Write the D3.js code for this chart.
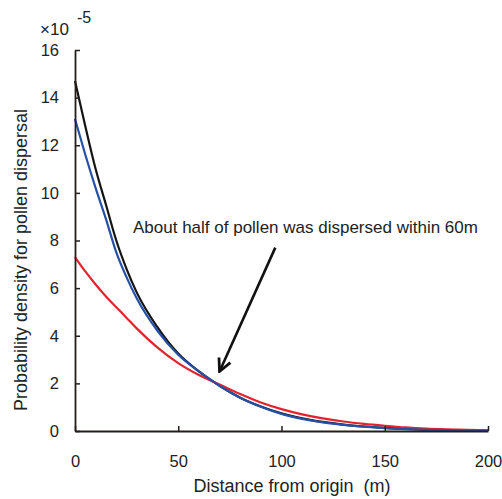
<!DOCTYPE html>
<html>
<head>
<meta charset="utf-8">
<script src="https://cdn.jsdelivr.net/npm/d3@7"></script>
<style>
  html, body { margin: 0; padding: 0; background: #fff; }
  svg { display: block; font-family: "Liberation Sans", Arial, sans-serif; }
</style>
</head>
<body>
<svg id="chart" width="502" height="499"></svg>
<script>
// ---- Data (probability density, units of 1e-5) ----
const distance = [0,5,10,15,20,25,30,40,50,60,70,80,90,100,110,120,130,140,150,160,170,180,190,200];
const blackSeries = [14.7,12.8,11.0,9.5,8.0,6.8,5.8,4.35,3.25,2.5,1.9,1.4,1.03,0.74,0.53,0.38,0.27,0.19,0.13,0.09,0.06,0.04,0.03,0.02];
const blueSeries  = [13.1,11.6,10.2,8.9,7.5,6.45,5.55,4.2,3.2,2.5,1.9,1.4,1.02,0.72,0.51,0.36,0.26,0.18,0.12,0.08,0.05,0.035,0.02,0.01];
const redSeries   = [7.3,6.7,6.15,5.65,5.2,4.75,4.3,3.5,2.85,2.35,1.95,1.55,1.2,0.92,0.7,0.53,0.4,0.3,0.22,0.15,0.1,0.07,0.05,0.03];
const xTicks = [0,50,100,150,200];
const yTicks = [0,2,4,6,8,10,12,14,16];
const annotationText = "About half of pollen was dispersed within 60m";
const arrowFrom = [97, 7.7];   // data coords (distance, density)
const arrowTo = [70, 2.5];

const svg = d3.select("#chart");
const x = d3.scaleLinear().domain([0, 200]).range([75, 488]);
const y = d3.scaleLinear().domain([0, 16]).range([431, 50]);
const axisColor = "#231f1c";

// Curves
const line = d3.line().x((d) => x(d[0])).y((d) => y(d[1])).curve(d3.curveMonotoneX);
const series = [
  { vals: blackSeries, color: "#141414" },
  { vals: redSeries, color: "#e3232b" },
  { vals: blueSeries, color: "#2650a6" }
];
series.forEach((s) => {
  svg.append("path")
    .datum(distance.map((d, i) => [d, s.vals[i]]))
    .attr("d", line)
    .attr("fill", "none")
    .attr("stroke", s.color)
    .attr("stroke-width", 2.2)
    .attr("stroke-linejoin", "round");
});

// Axes
const xAxis = d3.axisBottom(x).tickValues(xTicks).tickSizeInner(-5).tickSizeOuter(0).tickPadding(24);
const yAxis = d3.axisLeft(y).tickValues(yTicks).tickSizeInner(-5).tickSizeOuter(0).tickPadding(16);

const gx = svg.append("g").attr("transform", `translate(0,${y(0)})`).call(xAxis);
const gy = svg.append("g").attr("transform", `translate(${x(0)},0)`).call(yAxis);
[gx, gy].forEach((g) => {
  g.select(".domain").attr("stroke", axisColor).attr("stroke-width", 1.8);
  g.selectAll(".tick line").attr("stroke", axisColor).attr("stroke-width", 1.5);
  g.selectAll(".tick text").attr("fill", "#222").style("font-size", "16.5px")
    .style("font-family", "'Liberation Sans', Arial, sans-serif");
});

// Multiplier label
svg.append("text").attr("x", 40).attr("y", 35).attr("fill", "#222")
  .style("font-size", "17px").text("\u00d710");
svg.append("text").attr("x", 77).attr("y", 23).attr("fill", "#222")
  .style("font-size", "16px").text("-5");

// Axis titles
svg.append("text")
  .attr("transform", `translate(27,260) rotate(-90)`)
  .attr("text-anchor", "middle").attr("fill", "#222").style("font-size", "18px")
  .text("Probability density for pollen dispersal");
svg.append("text")
  .attr("x", 292).attr("y", 492)
  .attr("text-anchor", "middle").attr("fill", "#222").style("font-size", "18px")
  .style("white-space", "pre")
  .text("Distance from origin  (m)");

// Annotation
svg.append("text").attr("x", 133).attr("y", 233).attr("fill", "#222")
  .style("font-size", "17px").text(annotationText);

// Arrow
svg.append("defs").append("marker")
  .attr("id", "ah").attr("viewBox", "0 0 10 10").attr("refX", 9).attr("refY", 5)
  .attr("markerWidth", 6).attr("markerHeight", 6).attr("orient", "auto")
  .append("path").attr("d", "M1,1 L9,5 L1,9").attr("fill", "none")
  .attr("stroke", "#111").attr("stroke-width", 1.8);
svg.append("line")
  .attr("x1", x(arrowFrom[0])).attr("y1", y(arrowFrom[1]))
  .attr("x2", x(arrowTo[0])).attr("y2", y(arrowTo[1]))
  .attr("stroke", "#111").attr("stroke-width", 2.6)
  .attr("marker-end", "url(#ah)");
</script>
</body>
</html>
